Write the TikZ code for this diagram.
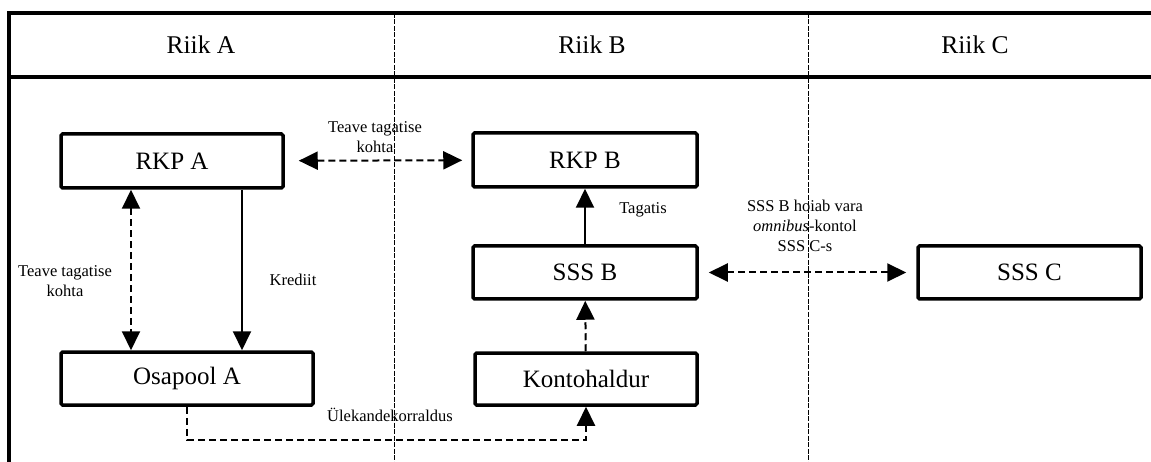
\documentclass[tikz,border=0pt]{standalone}
\usepackage{fontspec}
\setmainfont{Liberation Serif}
\usetikzlibrary{arrows.meta}

\begin{document}
\begin{tikzpicture}[x=1pt,y=-1pt,>={Triangle[length=19pt,width=18pt]},
                    line width=2pt]
\tikzstyle{every node}=[font=\fontsize{16.5}{21}\selectfont,align=center,inner sep=0pt]
\tikzstyle{entity}=[draw,line width=3.5pt,rounded corners=1.5pt,minimum height=54pt,
                    font=\fontsize{25}{28}\selectfont]
\tikzstyle{head}=[font=\fontsize{25.5}{30}\selectfont]
\tikzstyle{flow}=[dash pattern=on 7pt off 4pt]
\tikzstyle{tableline}=[line width=3.8pt]
\tikzstyle{colline}=[line width=0.8pt,dash pattern=on 5pt off 1.5pt]

\useasboundingbox (0,0) rectangle (1151,462);

% table
\draw[tableline] (9,462) -- (9,13) -- (1151,13);
\draw[tableline] (9,77) -- (1151,77);
\draw[colline] (394,13) -- (394,462);
\draw[colline] (808,13) -- (808,462);
\node[head] (riika) at (201,45) {Riik A};
\node[head] (riikb) at (592,45) {Riik B};
\node[head] (riikc) at (975,45) {Riik C};

% boxes
\node[entity,minimum width=222pt] (rkpa) at (172,161) {RKP A};
\node[entity,minimum width=252pt,minimum height=53pt] (osa) at (187,378.5) {Osapool A};
\node[entity,minimum width=224pt] (rkpb) at (585,160) {RKP B};
\node[entity,minimum width=224pt,minimum height=53pt] (sssb) at (585,272.5) {SSS B};
\node[entity,minimum width=222pt,minimum height=52pt] (kont) at (586,379) {Kontohaldur};
\node[entity,minimum width=223pt,minimum height=53pt] (sssc) at (1029.5,272.5) {SSS C};

% labels
\node (infob) at (375,137) {Teave tagatise\\[-1pt]kohta};
\node (infoa) at (65,281) {Teave tagatise\\[-1pt]kohta};
\node (kred) at (293,280) {Krediit};
\node (tag) at (643,210) {Tagatis};
\node (omni) at (805,226) {SSS B hoiab vara\\[-1pt]\emph{omnibus}-kontol\\[-1pt]SSS C-s};
\node (ulek) at (390,415) {Ülekandekorraldus};

% connectors
\draw[<->,flow,shorten <=14pt,shorten >=9pt] (rkpa) -- (rkpb);
\draw[<->,flow] ([xshift=-41pt]rkpa.south) -- ([xshift=-41pt]rkpa.south |- osa.north);
\draw[->] ([xshift=70pt]rkpa.south) -- ([xshift=70pt]rkpa.south |- osa.north);
\draw[->] (sssb) -- (rkpb);
\draw[->,flow] (kont) -- (sssb);
\draw[<->,flow,shorten <=10pt,shorten >=10pt] (sssb) -- (sssc);
\draw[->,flow] (osa.south) -- ++(0,33) -| (kont.south);

\end{tikzpicture}
\end{document}
